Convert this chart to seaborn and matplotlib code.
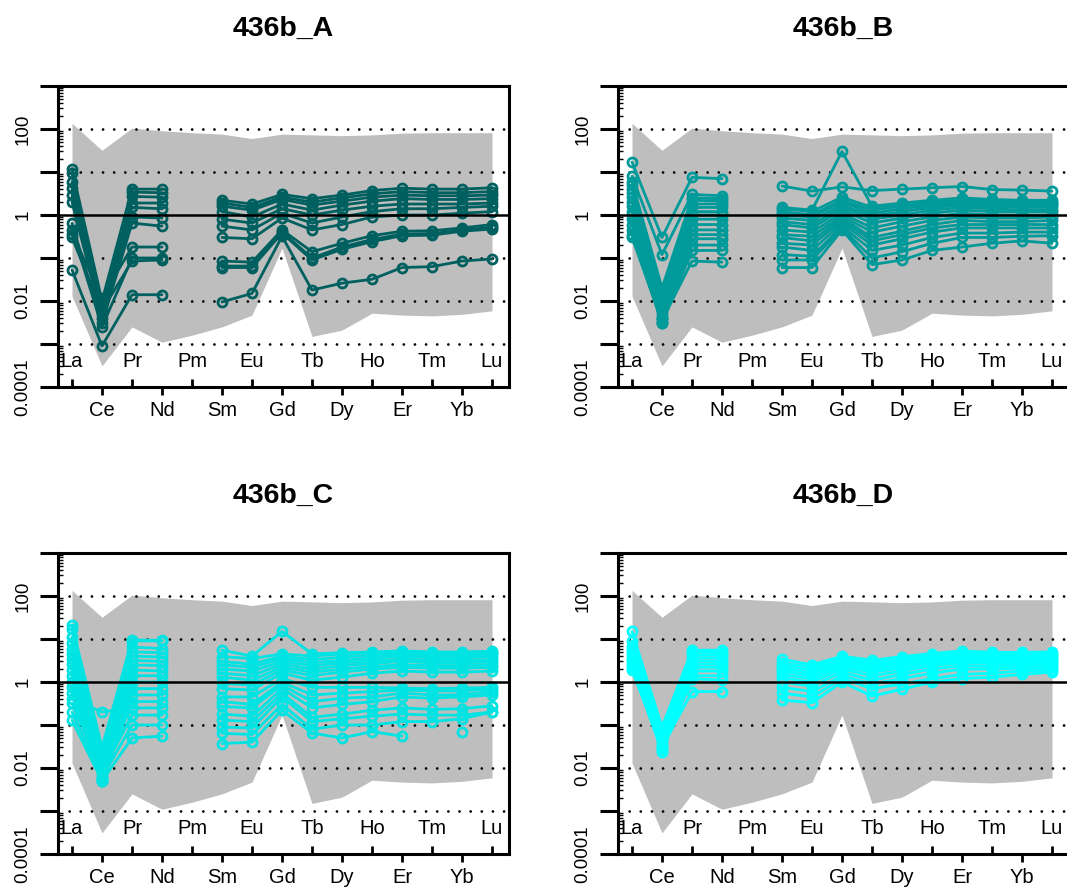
import numpy as np
import pandas as pd
import matplotlib
matplotlib.use("Agg")
import matplotlib.pyplot as plt
from matplotlib.ticker import LogLocator, NullFormatter, FixedLocator
import seaborn as sns

nan = np.nan

elements = ["La", "Ce", "Pr", "Nd", "Pm", "Sm", "Eu", "Gd", "Tb", "Dy", "Ho", "Er", "Tm", "Yb", "Lu"]

# grey reference envelope (upper / lower bound per element)
env_upper = [135, 32, 105, 91, 82, 76, 60, 76, 73, 70, 73, 80, 82, 82, 82]
env_lower = [0.013, 0.00031, 0.0025, 0.0011, 0.0016, 0.0025, 0.0047, 0.17, 0.0015, 0.0021, 0.0052, 0.0047, 0.0045, 0.0049, 0.0059]

titles = ["436b_A", "436b_B", "436b_C", "436b_D"]
colors = ["#005F5F", "#009A9A", "#00E3E3", "#00FFFF"]

samples_A = [
    [12, 0.010, 4.0, 4.0, nan, 2.2, 1.8, 3.0, 2.4, 2.9, 3.7, 4.2, 4.0, 4.0, 4.3],
    [9.5, 0.008, 3.4, 3.3, nan, 1.9, 1.5, 2.6, 2.0, 2.5, 3.1, 3.5, 3.3, 3.3, 3.5],
    [6.0, 0.006, 2.7, 2.6, nan, 1.6, 1.3, 2.3, 1.7, 2.1, 2.6, 2.9, 2.8, 2.8, 2.9],
    [4.2, 0.007, 1.9, 1.9, nan, 1.2, 0.9, 1.8, 1.3, 1.7, 2.1, 2.4, 2.3, 2.3, 2.4],
    [2.9, 0.005, 1.5, 1.4, nan, 0.8, 0.65, 1.4, 1.0, 1.3, 1.6, 1.8, 1.8, 1.8, 1.9],
    [2.0, 0.004, 0.9, 0.85, nan, 0.55, 0.45, 1.1, 0.65, 0.9, 1.2, 1.4, 1.4, 1.5, 1.6],
    [0.64, 0.003, 0.65, 0.55, nan, 0.30, 0.28, 0.85, 0.45, 0.6, 0.9, 1.0, 1.0, 1.1, 1.2],
    [0.37, 0.012, 0.18, 0.18, nan, 0.085, 0.08, 0.45, 0.14, 0.22, 0.33, 0.42, 0.43, 0.5, 0.6],
    [0.30, 0.006, 0.085, 0.09, nan, 0.06, 0.06, 0.38, 0.09, 0.16, 0.24, 0.33, 0.34, 0.42, 0.47],
    [0.45, 0.0025, 0.10, 0.10, nan, 0.065, 0.065, 0.40, 0.10, 0.18, 0.27, 0.36, 0.37, 0.44, 0.52],
    [0.053, 0.0009, 0.014, 0.014, nan, 0.0095, 0.015, 0.32, 0.018, 0.026, 0.032, 0.06, 0.063, 0.085, 0.095],
]

samples_B = [
    [17, 0.3, 7.5, 7.0, nan, 4.7, 3.6, 4.5, 3.7, 4.0, 4.3, 4.6, 3.9, 3.8, 3.6],
    [8, 0.12, 3.0, 2.8, nan, 1.5, 1.3, 30, 1.6, 1.9, 2.2, 2.5, 2.3, 2.2, 2.2],
    [6, 0.02, 2.5, 2.4, nan, 1.4, 1.2, 2.6, 1.5, 1.8, 2.1, 2.3, 2.1, 2.0, 2.0],
    [5, 0.015, 2.2, 2.1, nan, 1.2, 1.0, 2.2, 1.3, 1.6, 1.9, 2.1, 1.9, 1.9, 1.9],
    [4, 0.012, 1.8, 1.8, nan, 1.0, 0.9, 2.0, 1.1, 1.4, 1.7, 1.9, 1.8, 1.7, 1.7],
    [3.2, 0.01, 1.5, 1.5, nan, 0.85, 0.75, 1.7, 0.95, 1.2, 1.5, 1.7, 1.6, 1.5, 1.5],
    [2.6, 0.008, 1.2, 1.2, nan, 0.7, 0.6, 1.5, 0.8, 1.0, 1.3, 1.5, 1.4, 1.3, 1.3],
    [2.0, 0.007, 1.0, 1.0, nan, 0.6, 0.5, 1.3, 0.65, 0.85, 1.1, 1.3, 1.2, 1.2, 1.2],
    [1.6, 0.006, 0.8, 0.8, nan, 0.45, 0.4, 1.1, 0.5, 0.7, 0.9, 1.1, 1.0, 1.0, 1.0],
    [1.2, 0.005, 0.6, 0.6, nan, 0.35, 0.32, 0.95, 0.4, 0.55, 0.75, 0.9, 0.85, 0.85, 0.9],
    [1.0, 0.004, 0.45, 0.45, nan, 0.3, 0.25, 0.85, 0.3, 0.42, 0.6, 0.75, 0.7, 0.7, 0.75],
    [0.8, 0.004, 0.35, 0.35, nan, 0.22, 0.2, 0.75, 0.25, 0.35, 0.5, 0.6, 0.6, 0.6, 0.6],
    [0.6, 0.003, 0.28, 0.28, nan, 0.18, 0.15, 0.65, 0.2, 0.28, 0.4, 0.5, 0.5, 0.5, 0.5],
    [0.45, 0.004, 0.2, 0.2, nan, 0.12, 0.11, 0.55, 0.15, 0.2, 0.3, 0.38, 0.38, 0.4, 0.4],
    [0.35, 0.003, 0.15, 0.15, nan, 0.09, 0.09, 0.5, 0.1, 0.14, 0.22, 0.3, 0.3, 0.32, 0.33],
    [0.3, 0.0035, 0.085, 0.08, nan, 0.06, 0.06, 0.45, 0.07, 0.09, 0.15, 0.18, 0.22, 0.25, 0.22],
]

samples_C = [
    [21, 0.03, 9.5, 9.3, nan, 5.5, 4.0, 15, 4.5, 4.8, 5.0, 5.3, 5.0, 5.0, 5.2],
    [17, 0.02, 9.0, 9.0, nan, 3.9, 3.5, 4.5, 4.0, 4.5, 4.8, 5.0, 4.6, 4.6, 4.8],
    [11, 0.015, 6.5, 6.0, nan, 3.0, 2.6, 4.0, 3.3, 3.8, 4.2, 4.5, 4.2, 4.2, 4.4],
    [8, 0.012, 5.0, 4.8, nan, 2.5, 2.2, 3.5, 2.8, 3.2, 3.6, 4.0, 3.7, 3.7, 3.9],
    [6, 0.01, 4.0, 3.8, nan, 2.0, 1.8, 3.0, 2.4, 2.8, 3.1, 3.4, 3.2, 3.2, 3.3],
    [4.6, 0.009, 3.2, 3.0, nan, 1.6, 1.4, 2.6, 2.0, 2.4, 2.7, 3.0, 2.8, 2.8, 2.9],
    [3.5, 0.008, 2.5, 2.4, nan, 1.3, 1.1, 2.2, 1.7, 2.0, 2.3, 2.5, 2.4, 2.4, 2.5],
    [2.6, 0.007, 1.9, 1.8, nan, 0.93, 0.85, 1.9, 1.4, 1.7, 2.0, 2.2, 2.1, 2.1, 2.2],
    [1.9, 0.006, 1.4, 1.4, nan, 0.7, 0.65, 1.6, 1.1, 1.3, 1.6, 1.8, 1.7, 1.7, 1.8],
    [1.4, 0.01, 1.0, 1.0, nan, 0.45, 0.45, 1.2, 0.75, 0.75, 0.75, 0.72, 0.7, 0.72, 0.75],
    [1.0, 0.005, 0.7, 0.7, nan, 0.35, 0.3, 1.0, 0.5, 0.55, 0.6, 0.65, 0.62, 0.62, 0.68],
    [0.78, 0.006, 0.5, 0.5, nan, 0.27, 0.25, 0.85, 0.35, 0.42, 0.45, 0.55, 0.5, 0.5, 0.6],
    [0.55, 0.005, 0.35, 0.35, nan, 0.18, 0.16, 0.7, 0.25, 0.3, 0.35, 0.45, 0.42, 0.45, 0.5],
    [0.4, 0.2, 0.25, 0.25, nan, 0.13, 0.12, 0.55, 0.15, 0.18, 0.22, 0.25, 0.23, 0.24, 0.28],
    [0.32, 0.008, 0.17, 0.17, nan, 0.09, 0.085, 0.45, 0.12, 0.14, 0.16, 0.18, 0.17, 0.17, 0.2],
    [0.2, 0.006, 0.1, 0.1, nan, 0.064, 0.06, 0.3, 0.08, 0.1, 0.1, 0.12, 0.12, 0.14, 0.2],
    [0.13, 0.005, 0.05, 0.055, nan, 0.037, 0.04, 0.22, 0.065, 0.05, 0.07, 0.055, nan, 0.07, nan],
]

samples_D = [
    [15, 0.09, 5.5, 5.5, nan, 3.4, 2.5, 4.0, 3.2, 3.9, 4.6, 5.3, 4.9, 4.9, 5.0],
    [9, 0.07, 5.0, 4.8, nan, 2.8, 2.2, 3.6, 2.8, 3.4, 4.1, 4.6, 4.4, 4.4, 4.5],
    [7, 0.06, 4.2, 4.2, nan, 2.4, 1.9, 3.2, 2.5, 3.0, 3.7, 4.2, 4.0, 4.0, 4.1],
    [6, 0.05, 3.6, 3.6, nan, 2.1, 1.6, 2.9, 2.2, 2.7, 3.3, 3.8, 3.6, 3.6, 3.7],
    [5, 0.045, 3.1, 3.0, nan, 1.8, 1.4, 2.6, 1.9, 2.4, 3.0, 3.4, 3.3, 3.3, 3.4],
    [4.2, 0.04, 2.6, 2.6, nan, 1.5, 1.2, 2.3, 1.7, 2.1, 2.7, 3.1, 3.0, 3.0, 3.1],
    [3.5, 0.035, 2.2, 2.2, nan, 1.25, 1.0, 2.0, 1.4, 1.8, 2.4, 2.8, 2.7, 2.7, 2.8],
    [3.0, 0.03, 1.8, 1.8, nan, 1.0, 0.8, 1.7, 1.1, 1.5, 2.0, 2.4, 2.3, 2.4, 2.5],
    [2.5, 0.028, 1.4, 1.4, nan, 0.75, 0.6, 1.4, 0.9, 1.2, 1.6, 2.0, 2.0, 2.1, 2.2],
    [2.2, 0.024, 1.2, 1.1, nan, 0.55, 0.45, 1.2, 0.7, 0.9, 1.2, 1.5, 1.6, 1.8, 1.9],
    [1.9, 0.03, 0.6, 0.6, nan, 0.38, 0.33, 1.0, 0.47, 0.68, 1.0, 1.2, 1.3, 1.5, 1.7],
]

y_ticks = [1e-4, 1e-3, 1e-2, 1e-1, 1, 10, 100, 1000]
y_tick_labels = ["0.0001", "", "0.01", "", "1", "", "100", ""]
dotted_levels = [1e-3, 1e-2, 1e-1, 10, 100]

sns.set_style("ticks")
plt.rcParams["font.family"] = ["Liberation Sans", "DejaVu Sans"]
plt.rcParams["text.color"] = "black"
plt.rcParams["xtick.color"] = "black"
plt.rcParams["ytick.color"] = "black"
plt.rcParams["axes.labelcolor"] = "black"


def to_long(samples):
    rows = []
    for s, vals in enumerate(samples):
        seg = 0
        for i, v in enumerate(vals):
            if np.isnan(v):
                seg += 1
                continue
            rows.append({"pos": i + 1, "value": v, "unit": f"{s}_{seg}"})
    return pd.DataFrame(rows)


fig = plt.figure(figsize=(10.67, 8.88), dpi=100)
W, H = 1067.0, 888.0
ax_w, ax_h = 451 / W, 301 / H
positions = [
    (58 / W, (H - 387) / H),
    (618 / W, (H - 387) / H),
    (58 / W, (H - 854) / H),
    (618 / W, (H - 854) / H),
]
all_samples = [samples_A, samples_B, samples_C, samples_D]
xpos = np.arange(1, len(elements) + 1)

for k in range(4):
    ax = fig.add_axes([positions[k][0], positions[k][1], ax_w, ax_h])
    ax.set_yscale("log")
    ax.set_ylim(1e-4, 1e3)
    ax.set_xlim(1 - 14 / 30, 1 - 14 / 30 + 451 / 30)

    ax.fill_between(xpos, env_lower, env_upper, color="#BEBEBE", lw=0, zorder=0.5)
    for lv in dotted_levels:
        ax.axhline(lv, color="black", lw=2.0, linestyle=(0, (0.01, 4.0)),
                   dash_capstyle="round", zorder=1)

    df = to_long(all_samples[k])
    col = colors[k]
    sns.lineplot(data=df, x="pos", y="value", units="unit", estimator=None,
                 sort=False, color=col, marker="o", markersize=6.5,
                 markerfacecolor="none", markeredgecolor=col,
                 markeredgewidth=2.0, linewidth=2.0, legend=False, ax=ax, zorder=2)
    ax.axhline(1, color="black", lw=1.8, zorder=3)

    # y axis
    ax.set_yticks(y_ticks)
    ax.set_yticklabels(y_tick_labels)
    ax.yaxis.set_minor_locator(LogLocator(base=10, subs=np.arange(2, 10), numticks=30))
    ax.yaxis.set_minor_formatter(NullFormatter())
    ax.tick_params(axis="y", which="major", direction="out", length=13, width=2.2,
                   labelsize=13.5, labelrotation=90, pad=6, left=True)
    ax.tick_params(axis="y", which="minor", direction="in", length=3.6, width=1.0, left=True)
    for lab in ax.get_yticklabels():
        lab.set_va("center")

    # x axis: even elements outside, odd elements inside
    even_pos = xpos[1::2]
    odd_pos = xpos[0::2]
    ax.set_xticks(even_pos)
    ax.set_xticklabels([elements[i - 1] for i in even_pos])
    ax.xaxis.set_minor_locator(FixedLocator(odd_pos))
    ax.xaxis.set_minor_formatter(NullFormatter())
    ax.tick_params(axis="x", which="major", direction="out", length=5.8, width=2.0,
                   labelsize=14.5, pad=4, bottom=True)
    ax.tick_params(axis="x", which="minor", direction="in", length=5.5, width=2.0, bottom=True)
    for p in odd_pos:
        ax.text(p, 19.8 / 301, elements[p - 1], transform=ax.get_xaxis_transform(),
                ha="center", va="baseline", fontsize=14.5, color="black", zorder=4)

    ax.set_xlabel("")
    ax.set_ylabel("")
    for sp in ax.spines.values():
        sp.set_linewidth(2.2)
        sp.set_color("black")
        sp.set_visible(True)
    ax.set_title(titles[k], fontsize=20.5, fontweight="bold", pad=36, color="black")

fig.savefig("out.png", dpi=100)
